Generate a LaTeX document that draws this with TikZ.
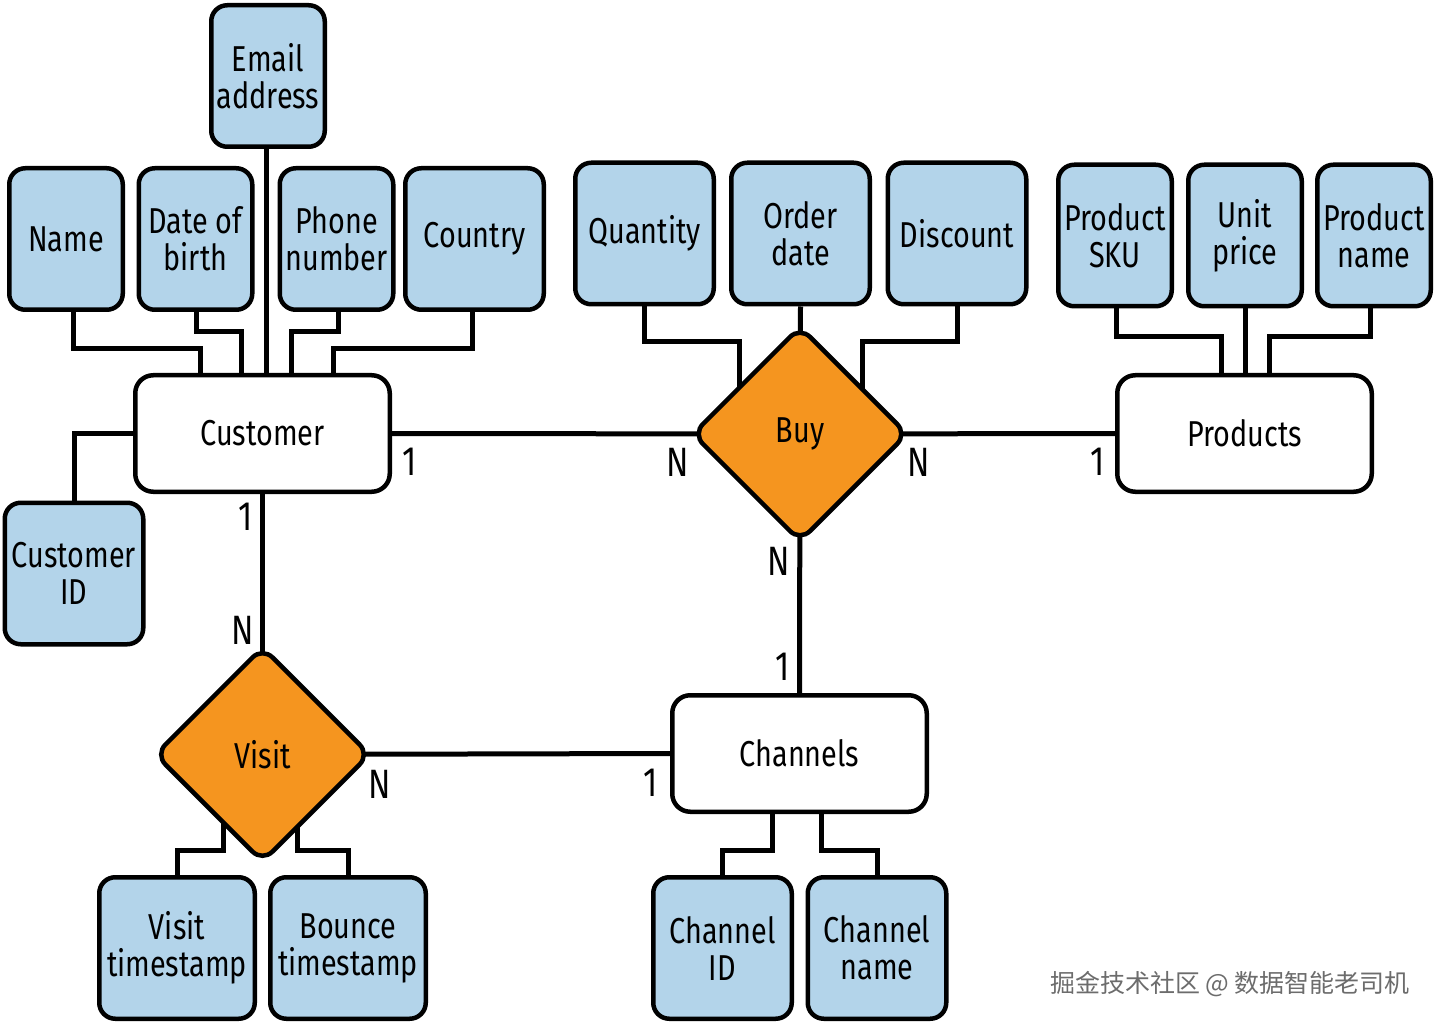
\documentclass[tikz,border=0pt]{standalone}
\usepackage{fontspec}
\setmainfont[FakeStretch=0.8]{Fira Sans}
\newfontfamily\cjk{Noto Sans CJK SC}
\usetikzlibrary{shapes.geometric,backgrounds}
\definecolor{attrblue}{HTML}{B3D4EA}
\definecolor{relorange}{HTML}{F5951F}
\tikzset{
  attr/.style={draw, line width=4.5pt, rounded corners=16pt, fill=attrblue, align=center,
    inner sep=0pt, minimum height=141.5, minimum width=#1},
  attr/.default=113.5,
  entity/.style={draw, line width=4.5pt, rounded corners=18pt, fill=white, inner sep=0pt,
    minimum width=254.5, minimum height=116.5},
  rel/.style={diamond, draw, line width=4.5pt, rounded corners=14pt, fill=relorange,
    inner sep=0pt, minimum width=216, minimum height=216},
  link/.style={line width=5pt},
  card/.style={font=\fontsize{41}{41}\selectfont},
}
\begin{document}
\begin{tikzpicture}[x=1pt, y=-1pt, font=\fontsize{36}{37}\selectfont]
  \useasboundingbox (0,0) rectangle (1436,1024);
  % entities and relations
  \node[entity] (cust) at (262.5,433.5) {Customer};
  \node[entity] (prod) at (1244.5,433.5) {Products};
  \node[entity] (chan) at (799.5,753.5) {Channels};
  \node[rel] (buy) at (800,434) {Buy};
  \node[rel] (visit) at (262.5,754.5) {Visit};
  % customer attributes
  \node[attr] (email) at (268,76) {Email\\address};
  \node[attr] (name) at (66,239) {Name};
  \node[attr] (dob) at (195.5,239) {Date of\\birth};
  \node[attr] (phone) at (336.5,239) {Phone\\number};
  \node[attr=138.5] (country) at (474.5,239) {Country};
  \node[attr=138.5] (custid) at (74,573.5) {Customer\\ID};
  % buy attributes
  \node[attr=138.5] (qty) at (644.5,233.5) {Quantity};
  \node[attr=138.5] (odate) at (800.5,233.5) {Order\\date};
  \node[attr=138.5] (disc) at (957,233.5) {Discount};
  % product attributes
  \node[attr] (sku) at (1115,235.5) {Product\\SKU};
  \node[attr] (uprice) at (1245,235.5) {Unit\\price};
  \node[attr] (pname) at (1374,235.5) {Product\\name};
  % visit and channel attributes
  \node[attr=155.5] (vts) at (177,948) {Visit\\timestamp};
  \node[attr=155.5] (bts) at (348,948) {Bounce\\timestamp};
  \node[attr=138.5] (chid) at (722.5,948) {Channel\\ID};
  \node[attr=138.5] (chname) at (877,948) {Channel\\name};
  % connectors
  \begin{pgfonlayer}{background}
    \draw[link] ([xshift=7]name.south) -- ++(0,37) -| ([xshift=-62.5]cust.north);
    \draw[link] ([xshift=0.5]dob.south) -- ++(0,20) -| ([xshift=-21]cust.north);
    \draw[link] ([xshift=-2]email.south) -- ([xshift=-2]email.south |- cust.north);
    \draw[link] ([xshift=1.5]phone.south) -- ++(0,20) -| ([xshift=29]cust.north);
    \draw[link] ([xshift=-2.5]country.south) -- ++(0,37) -| ([xshift=71]cust.north);
    \draw[link] (cust.west) -| (custid.north);
    \draw[link] (cust.east) -- (buy.center);
    \draw[link] (buy.center) -- (prod.west);
    \draw[link] (buy.center) -- (chan.north);
    \draw[link] (cust.south) -- (visit.center);
    \draw[link] (visit.center) -- (chan.west);
    \draw[link] (qty.south) -- ++(0,35) -| ([xshift=-61]buy.center);
    \draw[link] (odate.south) -- (buy.center);
    \draw[link] (disc.south) -- ++(0,35) -| ([xshift=62]buy.center);
    \draw[link] ([xshift=1]sku.south) -- ++(0,28) -| ([xshift=-23.5]prod.north);
    \draw[link] (uprice.south) -- (uprice.south |- prod.north);
    \draw[link] ([xshift=-4]pname.south) -- ++(0,28) -| ([xshift=24.5]prod.north);
    \draw[link] (vts.north) -- ++(0,-25) -| ([xshift=-39.5]visit.center);
    \draw[link] (bts.north) -- ++(0,-25) -| ([xshift=34.5]visit.center);
    \draw[link] (chid.north) -- ++(0,-25) -| ([xshift=-27.5]chan.south);
    \draw[link] (chname.north) -- ++(0,-25) -| ([xshift=21.5]chan.south);
  \end{pgfonlayer}
  % cardinalities
  \node[card] (c-cb) at (410,462) {1};
  \node[card] (n-cb) at (678,462) {N};
  \node[card] (n-bp) at (919,462) {N};
  \node[card] (c-bp) at (1098,462) {1};
  \node[card] (c-cv) at (246,517) {1};
  \node[card] (n-cv) at (243,630) {N};
  \node[card] (n-vc) at (380,784) {N};
  \node[card] (c-vc) at (651,783) {1};
  \node[card] (n-bc) at (779,561) {N};
  \node[card] (c-bc) at (783,667) {1};
  % watermark
  \node[font=\cjk\fontsize{25}{25}\selectfont, text=gray!85!black] (mark) at (1230,984)
    {掘金技术社区 @ 数据智能老司机};
\end{tikzpicture}
\end{document}
